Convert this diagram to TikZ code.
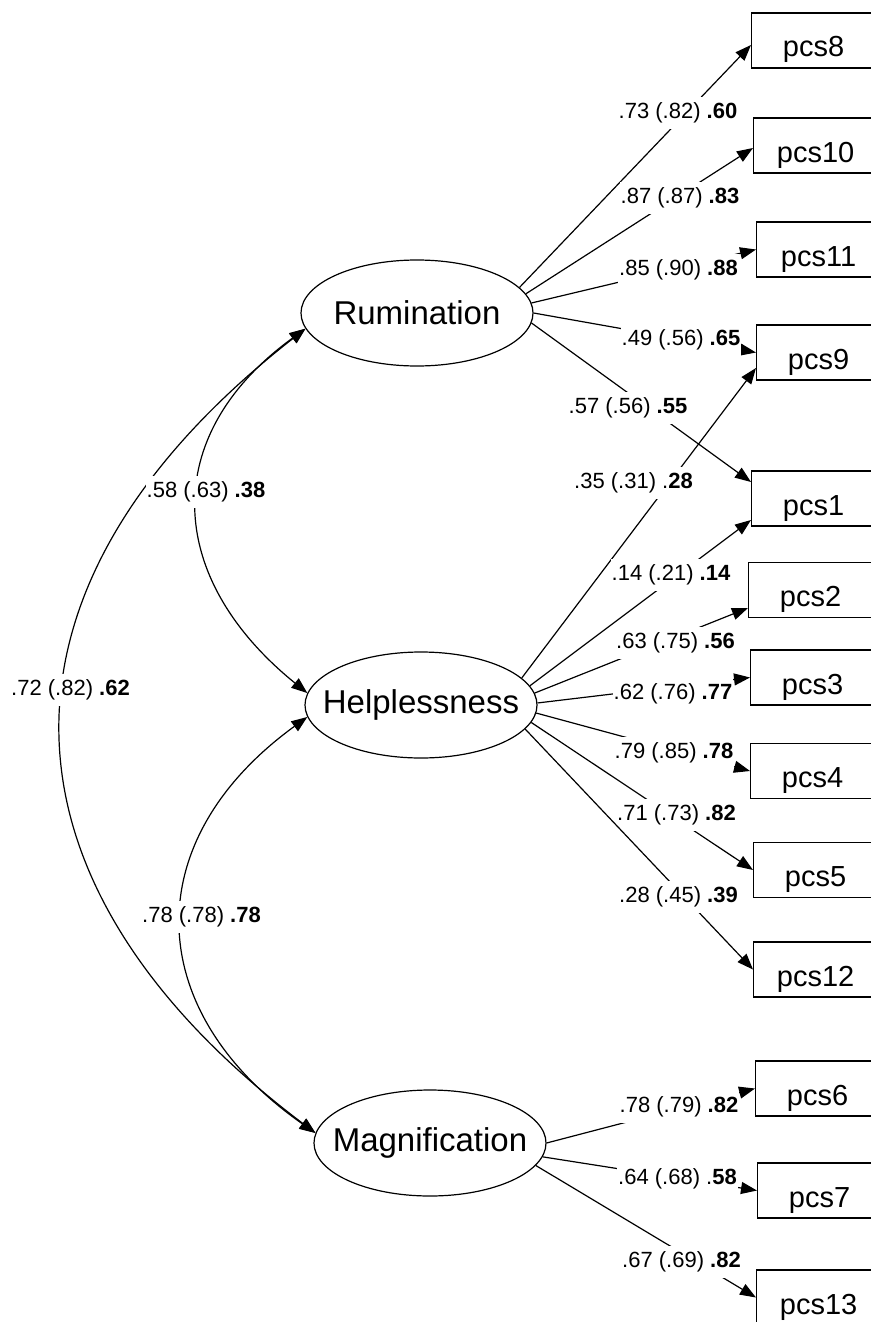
\documentclass[tikz,border=0pt]{standalone}
\usepackage{fontspec}
\setmainfont{Liberation Sans}
\usetikzlibrary{shapes.geometric,arrows.meta}

\newcommand{\latfont}{\fontsize{33}{36}\selectfont}
\newcommand{\obsfont}{\fontsize{29}{32}\selectfont}
\newcommand{\coeffont}{\fontsize{22}{24}\selectfont}

\begin{document}
\begin{tikzpicture}
[x=1pt,y=1pt,line width=1.2pt]
\tikzset{latent/.style={ellipse,draw,minimum width=232pt,minimum height=106pt,inner sep=0pt,label={[font=\latfont]center:#1}}}
\tikzset{obs/.style={draw,rectangle,minimum width=124pt,minimum height=55pt,anchor=west,font=\obsfont,text height=33pt,text depth=0pt}}
\tikzset{coef/.style={fill=white,inner xsep=1pt,inner ysep=6pt,font=\coeffont}}
\tikzset{load/.style={-{Triangle[length=16pt,width=12pt]}}}
\tikzset{corr/.style={{Triangle[length=16pt,width=12pt]}-{Triangle[length=16pt,width=12pt]}}}

\useasboundingbox (0,0) rectangle (870,-1322);

\node [latent=Rumination] (rum) at (417,-313) {};
\node [latent=Helplessness] (help) at (421,-705) {};
\node [latent=Magnification] (mag) at (430,-1143) {};

\node [obs] (pcs8) at (751,-40.5) {pcs8};
\node [obs] (pcs10) at (753,-145.5) {pcs10};
\node [obs] (pcs11) at (756,-249.5) {pcs11};
\node [obs] (pcs9) at (756,-352.5) {pcs9};
\node [obs] (pcs1) at (751,-498.5) {pcs1};
\node [obs] (pcs2) at (748,-590) {pcs2};
\node [obs] (pcs3) at (750,-677.5) {pcs3};
\node [obs] (pcs4) at (750,-771) {pcs4};
\node [obs] (pcs5) at (753,-870) {pcs5};
\node [obs] (pcs12) at (753,-969.5) {pcs12};
\node [obs] (pcs6) at (755,-1088.5) {pcs6};
\node [obs] (pcs7) at (757,-1190.5) {pcs7};
\node [obs] (pcs13) at (756,-1297.5) {pcs13};

% factor loadings
\foreach \from/\a/\to/\sh/\x/\y/\txt in {
  rum/14/pcs8/-4.5/678/113/{.73 (.82) \textbf{.60}},
  rum/10/pcs10/-2.5/680/198/{.87 (.87) \textbf{.83}},
  rum/5.6/pcs11/0/678.5/270/{.85 (.90) \textbf{.88}},
  rum/0.5/pcs9/0/681/340/{.49 (.56) \textbf{.65}},
  rum/355/pcs1/16.5/628/408/{.57 (.56) \textbf{.55}},
  help/15.6/pcs9/-15.5/633.5/483/{.35 (.31) .\textbf{28}},
  help/10.4/pcs1/-21.5/671/575/{.14 (.21) \textbf{.14}},
  help/6.5/pcs2/-18/675.5/643/{.63 (.75) \textbf{.56}},
  help/1.5/pcs3/0/673/694/{.62 (.76) \textbf{.77}},
  help/356.5/pcs4/0/674/753/{.79 (.85) \textbf{.78}},
  help/351.4/pcs5/0/676.5/815/{.71 (.73) \textbf{.82}},
  help/347.8/pcs12/0/678.5/897/{.28 (.45) \textbf{.39}},
  mag/0/pcs6/0/679/1107/{.78 (.79) \textbf{.82}},
  mag/353/pcs7/0/677.5/1179/{.64 (.68) .\textbf{58}},
  mag/348/pcs13/0/681.5/1262/{.67 (.69) \textbf{.82}}}
{
  \draw [load] (\from.\a) -- ([yshift=\sh pt]\to.west);
  \node [coef] (c\from\to) at (\x,-\y) {\txt};
}

% covariances
\draw [corr] (rum.188) to[out=216,in=141,looseness=1.28] (help.174);
\draw [corr] (help.186) to[out=216,in=145,looseness=1.3] (mag.175);
\draw [corr] (rum.188) .. controls +(218:430) and +(143:405) .. (mag.175);
\node [coef] (crumhelp) at (206,-492) {.58 (.63) \textbf{.38}};
\node [coef] (chelpmag) at (201.5,-917) {.78 (.78) \textbf{.78}};
\node [coef] (crummag) at (70.5,-690) {.72 (.82) \textbf{.62}};

\end{tikzpicture}
\end{document}
